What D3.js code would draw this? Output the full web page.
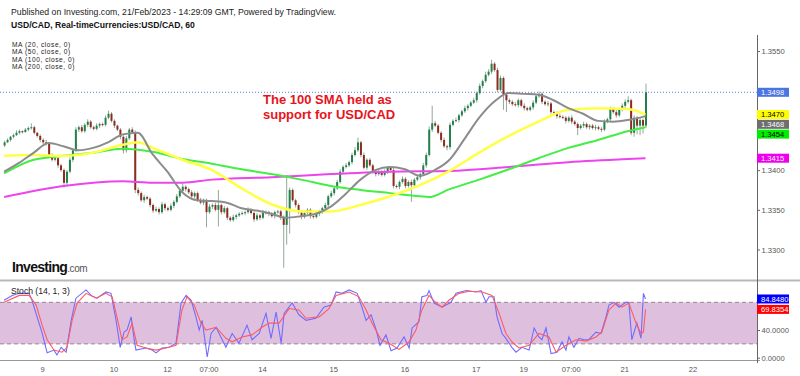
<!DOCTYPE html>
<html>
<head>
<meta charset="utf-8">
<script src="https://cdn.jsdelivr.net/npm/d3@7"></script>
<style>
	body { margin: 0; background: #fff; }
	svg { display: block; }
	text { font-family: Arial, "Liberation Sans", sans-serif; }
</style>
</head>
<body>
<svg width="800" height="376"></svg>
<script>
// USD/CAD hourly, 9 Feb - 21 Feb 2023 (bar index 0 = first visible hour)
const PIP = 0.0001;
const firstOpen = 1.3431;
const closes = [
	1.3435, 1.3438, 1.3442, 1.3444, 1.3447, 1.3449, 1.3448, 1.3451, 1.3453, 1.3454,
	1.3447, 1.3443, 1.3438, 1.3435, 1.3433, 1.3419, 1.3413, 1.3415, 1.3406, 1.3400,
	1.3384, 1.3398, 1.3413, 1.3425, 1.3451, 1.3454, 1.3449, 1.3457, 1.3461, 1.3454,
	1.3452, 1.3456, 1.3458, 1.3457, 1.3466, 1.3471, 1.3462, 1.3456, 1.3451, 1.3442,
	1.3425, 1.3440, 1.3451, 1.3448, 1.3375, 1.3371, 1.3362, 1.3366, 1.3364, 1.3356,
	1.3349, 1.3351, 1.3347, 1.3357, 1.3352, 1.3350, 1.3355, 1.3360, 1.3367, 1.3374,
	1.3379, 1.3376, 1.3372, 1.3367, 1.3371, 1.3362, 1.3359, 1.3362, 1.3347, 1.3354,
	1.3356, 1.3350, 1.3356, 1.3347, 1.3352, 1.3340, 1.3337, 1.3341, 1.3343, 1.3345,
	1.3346, 1.3347, 1.3350, 1.3346, 1.3338, 1.3343, 1.3340, 1.3346, 1.3347, 1.3345,
	1.3342, 1.3347, 1.3348, 1.3340, 1.3331, 1.3350, 1.3375, 1.3362, 1.3356, 1.3347,
	1.3341, 1.3346, 1.3350, 1.3342, 1.3341, 1.3345, 1.3347, 1.3352, 1.3356, 1.3367,
	1.3371, 1.3377, 1.3385, 1.3398, 1.3404, 1.3406, 1.3410, 1.3419, 1.3425, 1.3435,
	1.3419, 1.3403, 1.3413, 1.3406, 1.3398, 1.3395, 1.3398, 1.3394, 1.3398, 1.3403,
	1.3400, 1.3380, 1.3379, 1.3385, 1.3389, 1.3380, 1.3385, 1.3381, 1.3388, 1.3391,
	1.3395, 1.3406, 1.3419, 1.3451, 1.3459, 1.3456, 1.3447, 1.3438, 1.3430, 1.3429,
	1.3457, 1.3462, 1.3463, 1.3469, 1.3474, 1.3478, 1.3481, 1.3485, 1.3488, 1.3497,
	1.3506, 1.3512, 1.3520, 1.3524, 1.3534, 1.3526, 1.3501, 1.3516, 1.3495, 1.3488,
	1.3486, 1.3483, 1.3482, 1.3488, 1.3481, 1.3478, 1.3476, 1.3479, 1.3485, 1.3493,
	1.3496, 1.3486, 1.3483, 1.3484, 1.3473, 1.3472, 1.3468, 1.3467, 1.3466, 1.3462,
	1.3466, 1.3461, 1.3458, 1.3453, 1.3456, 1.3458, 1.3454, 1.3456, 1.3453, 1.3454,
	1.3452, 1.3451, 1.3461, 1.3464, 1.3477, 1.3473, 1.3469, 1.3476, 1.3481, 1.3486,
	1.3488, 1.3447, 1.3466, 1.3456, 1.3463, 1.3456, 1.3498
];
// wick lengths beyond the body, in pips
const wickUp = [
	2, 2, 1, 2, 3, 2, 1, 2, 2, 5,   2, 1, 2, 2, 3, 2, 2, 3, 1, 2,
	2, 2, 3, 2, 3, 2, 3, 2, 3, 2,   2, 3, 2, 2, 3, 4, 2, 2, 1, 2,
	2, 3, 2, 3, 2, 3, 2, 3, 2, 2,   2, 3, 2, 3, 2, 2, 3, 2, 3, 2,
	4, 2, 2, 3, 2, 2, 3, 2, 2, 3,   2, 3, 19, 2, 3, 2, 2, 3, 2, 2,
	2, 2, 3, 2, 2, 3, 2, 4, 2, 2,   2, 2, 2, 2, 3, 44, 3, 2, 2, 2,
	2, 3, 2, 2, 3, 2, 3, 2, 3, 2,   3, 2, 3, 3, 2, 3, 2, 3, 4, 6,
	2, 3, 2, 2, 2, 3, 2, 2, 3, 2,   2, 3, 2, 2, 3, 2, 2, 3, 2, 2,
	2, 3, 3, 4, 22, 3, 2, 2, 3, 2,  3, 2, 3, 2, 2, 3, 2, 2, 3, 2,
	3, 2, 4, 3, 5, 2, 3, 3, 2, 3,   2, 2, 3, 2, 2, 3, 2, 2, 3, 2,
	3, 2, 2, 3, 2, 2, 2, 3, 2, 2,   2, 3, 2, 2, 2, 3, 2, 2, 2, 3,
	2, 2, 3, 2, 3, 2, 3, 2, 3, 3,   5, 2, 3, 2, 3, 2, 11
];
const wickDown = [
	2, 1, 2, 2, 1, 2, 2, 1, 2, 2,   2, 2, 3, 2, 2, 3, 2, 2, 3, 2,
	6, 3, 2, 3, 2, 3, 2, 2, 3, 2,   2, 2, 3, 2, 2, 2, 2, 3, 2, 3,
	4, 3, 2, 2, 4, 3, 2, 3, 2, 3,   3, 2, 3, 2, 3, 2, 2, 3, 2, 2,
	2, 3, 2, 2, 3, 2, 2, 3, 19, 2,  3, 2, 21, 3, 2, 3, 2, 2, 3, 2,
	2, 3, 2, 2, 3, 2, 3, 2, 2, 3,   2, 3, 2, 3, 54, 25, 30, 2, 3, 2,
	3, 2, 2, 3, 2, 2, 3, 2, 2, 3,   2, 3, 2, 2, 3, 2, 2, 3, 2, 2,
	3, 2, 3, 2, 2, 3, 2, 2, 2, 3,   2, 3, 2, 3, 2, 3, 2, 21, 2, 2,
	3, 2, 3, 2, 3, 2, 2, 3, 2, 4,   3, 2, 2, 3, 2, 2, 3, 2, 2, 3,
	2, 3, 2, 2, 3, 2, 3, 2, 19, 15, 3, 2, 2, 3, 2, 3, 2, 2, 3, 2,
	2, 3, 2, 3, 2, 2, 3, 2, 2, 3,   2, 3, 2, 9, 2, 3, 2, 3, 2, 3,
	2, 3, 2, 2, 3, 2, 3, 2, 2, 3,   2, 3, 5, 11, 12, 10, 3
];

// moving averages, read at bar indices
const ma20Bars = [0, 5, 10, 15, 20, 25, 30, 35, 40, 45, 50, 55, 60, 65, 70, 75, 80, 85, 90, 95, 100, 105,
	110, 115, 120, 125, 130, 135, 140, 145, 150, 155, 160, 165, 170, 175, 180, 185, 190, 195, 200, 205, 210, 216];
const ma20 = [
	1.3398, 1.3409, 1.3422, 1.3434, 1.3430, 1.3425, 1.3428, 1.3435, 1.3445, 1.3447,
	1.3420, 1.3398, 1.3372, 1.3362, 1.3361, 1.3359, 1.3352, 1.3349, 1.3345, 1.3340,
	1.3342, 1.3345, 1.3354, 1.3370, 1.3388, 1.3400, 1.3404, 1.3401, 1.3393, 1.3400,
	1.3413, 1.3439, 1.3466, 1.3486, 1.3497, 1.3496, 1.3495, 1.3488, 1.3478, 1.3471,
	1.3462, 1.3461, 1.3463, 1.3468
];
const ma50Bars = [0, 10, 20, 30, 40, 45, 50, 60, 70, 80, 90, 100, 110, 120, 130, 140, 150, 160, 170, 180, 190, 200, 210, 216];
const ma50 = [1.3418, 1.3419, 1.3418, 1.3422, 1.3432, 1.3435, 1.3428, 1.3413, 1.3400, 1.3377, 1.3357, 1.3348,
	1.3348, 1.3356, 1.3367, 1.3381, 1.3399, 1.3422, 1.3443, 1.3461, 1.3476, 1.3478, 1.3477, 1.3470];
const ma100Bars = [0, 10, 20, 30, 40, 50, 60, 70, 80, 90, 100, 110, 120, 130, 140, 143, 150, 160, 170, 180, 190, 200, 210, 216];
const ma100 = [1.3396, 1.3413, 1.3418, 1.3422, 1.3427, 1.3423, 1.3414, 1.3408, 1.3401, 1.3395, 1.3388, 1.3380,
	1.3375, 1.3371, 1.3367, 1.3366, 1.3376, 1.3388, 1.3401, 1.3415, 1.3428, 1.3438, 1.3449, 1.3454];
const ma200Bars = [0, 20, 40, 50, 60, 70, 90, 110, 130, 150, 170, 190, 210, 216];
const ma200 = [1.3366, 1.3380, 1.3386, 1.3384, 1.3384, 1.3388, 1.3391, 1.3395, 1.3398, 1.3399, 1.3404, 1.3410, 1.3414, 1.3415];

// Stoch (14, 1, 3)
const kBars = [0, 2.7, 5.1, 8.4, 9.4, 11.1, 12.8, 14.5, 16.8, 17.8,
	19.2, 20.9, 22.6, 24.2, 27.6, 29.3, 31.3, 34.3, 36, 37.7,
	39.1, 40.4, 41.4, 42.8, 43.8, 44.4, 47.8, 49.8, 51.2, 53.2,
	55.6, 57.9, 59.6, 61.3, 63, 64.6, 65.7, 66.7, 68.4, 69.7,
	71.4, 72.4, 74.7, 76.8, 79.1, 81.8, 83.5, 85.9, 88.2, 89.9,
	91.6, 93.3, 94.3, 97, 99.3, 101.7, 105, 107.7, 110.1, 111.8,
	113.8, 116.2, 118.9, 120.5, 121.9, 123.6, 125.3, 126.6, 128.6, 130.3,
	132.3, 134.7, 136.4, 137.4, 139.7, 140.7, 142.4, 143.1, 144.8, 147.5,
	150.5, 152.2, 155.6, 158.9, 160.6, 162.3, 163.3, 165, 166, 167.7,
	169, 171, 172.4, 174.4, 176.8, 178.5, 180.1, 181.1, 182.5, 184.2,
	186.2, 187.9, 189.2, 190.2, 191.9, 193.6, 195.3, 196.9, 199.3, 201,
	202.7, 203.7, 205.4, 207.1, 209.4, 210.4, 211.4, 213.1, 214.5, 215.3, 216];
const kValues = [83, 90, 93, 93, 83, 59, 36, 7, 11, 4,
	15, 8, 54, 86, 98, 90, 86, 95, 93, 54,
	15, 37, 40, 59, 26, 11, 14, 11, 7, 14,
	15, 21, 79, 90, 83, 59, 40, 54, 1, 35,
	44, 35, 15, 35, 21, 47, 26, 35, 64, 28,
	66, 21, 64, 79, 62, 54, 57, 73, 76, 95,
	93, 98, 93, 73, 54, 62, 40, 18, 33, 10,
	14, 30, 14, 43, 52, 88, 90, 97, 79, 73,
	80, 93, 97, 95, 97, 80, 88, 88, 59, 35,
	28, 15, 8, 15, 11, 43, 30, 26, 43, 6,
	8, 23, 11, 30, 15, 28, 26, 26, 37, 35,
	59, 76, 80, 73, 80, 80, 26, 50, 28, 93, 84.848];
const dBars = [0, 5.1, 8.4, 10.8, 12.8, 14.5, 16.8, 19.5, 21.2, 22.9,
	24.6, 27.6, 31, 34.3, 36.4, 38, 39.7, 41.4, 43.1, 44.8,
	47.8, 51.2, 54.5, 57.9, 59.9, 61.6, 64, 66.3, 68, 71.4,
	74.7, 76.8, 80.1, 83.5, 86.9, 89.2, 92.6, 96, 99.3, 101.7,
	106.1, 109.4, 111.8, 116.2, 119.5, 121.9, 123.9, 126.9, 129.6, 133,
	136.4, 138.7, 140.7, 143.1, 145.5, 147.5, 149.8, 153.2, 156.6, 161,
	164.3, 166.7, 169, 171, 173.4, 176.8, 180.1, 183.5, 185.9, 189.2,
	192.6, 196, 199.3, 201.3, 203.7, 206.1, 208.1, 210.4, 212.8, 214.5, 215.3, 216];
const dValues = [80, 90, 90, 76, 47, 26, 11, 8, 15, 54,
	79, 93, 86, 93, 88, 59, 26, 30, 50, 18,
	14, 11, 14, 18, 69, 88, 76, 50, 40, 44,
	28, 23, 30, 33, 44, 50, 50, 71, 69, 57,
	59, 71, 90, 95, 88, 69, 50, 26, 21, 12,
	23, 40, 69, 90, 79, 73, 83, 93, 96, 95,
	90, 64, 35, 23, 14, 18, 35, 30, 8, 18,
	26, 24, 30, 37, 69, 79, 73, 79, 50, 35, 37, 69.8354];

// time axis labels at bar indices
const xTickBars = [13, 37, 55, 69, 87, 111, 135, 159, 175, 191, 209, 232];
const xTickLabels = ['9', '10', '12', '07:00', '14', '15', '16', '17', '19', '07:00', '21', '22'];
const priceTicks = [1.3300, 1.3350, 1.3400, 1.3450, 1.3500, 1.3550];
const stochTicks = [0, 40, 80];
const maLegend = ['MA (20, close, 0)', 'MA (50, close, 0)', 'MA (100, close, 0)', 'MA (200, close, 0)'];

const svg = d3.select('svg');
const R = 757; // right edge of the plot panes

const x = d3.scaleLinear().domain([0, 253]).range([4.1, 4.1 + 253 * 2.9694]);
const y = d3.scaleLinear().domain([1.3300, 1.3550]).range([249.5, 51]);
const ys = d3.scaleLinear().domain([0, 100]).range([357.7, 288.5]);

const defs = svg.append('defs');
defs.append('clipPath').attr('id', 'clip-main').append('rect').attr('x', 0).attr('y', 35).attr('width', R).attr('height', 245);
defs.append('clipPath').attr('id', 'clip-stoch').append('rect').attr('x', 0).attr('y', 282).attr('width', R).attr('height', 78);

// header texts
svg.append('text').attr('x', 11).attr('y', 15).attr('font-size', 8.7).attr('fill', '#222')
	.text('Published on Investing.com, 21/Feb/2023 - 14:29:09 GMT, Powered by TradingView.');
svg.append('text').attr('x', 11).attr('y', 28).attr('font-size', 8.6).attr('font-weight', 'bold').attr('fill', '#111')
	.text('USD/CAD, Real-timeCurrencies:USD/CAD, 60');
svg.append('g').selectAll('text').data(maLegend).join('text')
	.attr('x', 12).attr('y', (d, i) => 46.8 + i * 7.4)
	.attr('font-size', 6.6).attr('letter-spacing', 0.55).attr('fill', '#222').text(d => d);

// main pane
const main = svg.append('g').attr('clip-path', 'url(#clip-main)');

main.append('line').attr('x1', 0).attr('x2', R).attr('y1', y(1.3498)).attr('y2', y(1.3498))
	.attr('stroke', '#5b7fe6').attr('stroke-dasharray', '1,2');

const candles = closes.map((c, i) => {
	const o = i ? closes[i - 1] : firstOpen;
	return { i, o, c, h: Math.max(o, c) + wickUp[i] * PIP, l: Math.min(o, c) - wickDown[i] * PIP };
});
main.append('g').selectAll('line').data(candles).join('line')
	.attr('x1', d => x(d.i) + 0.5).attr('x2', d => x(d.i) + 0.5)
	.attr('y1', d => y(d.h)).attr('y2', d => y(d.l))
	.attr('stroke', '#93a89b').attr('stroke-width', 1);
main.append('g').selectAll('rect').data(candles).join('rect')
	.attr('x', d => x(d.i) - 0.5).attr('width', 2)
	.attr('y', d => y(Math.max(d.o, d.c)))
	.attr('height', d => Math.max(1, Math.abs(y(d.o) - y(d.c))))
	.attr('fill', d => d.c >= d.o ? '#22804a' : '#8e2a1e');

const maLine = d3.line().x(d => x(d[0])).y(d => y(d[1])).curve(d3.curveMonotoneX);
[
	[ma200Bars, ma200, '#ee44ee', 2],
	[ma100Bars, ma100, '#44ee44', 2],
	[ma50Bars, ma50, '#ffff44', 2.5],
	[ma20Bars, ma20, '#8c8c8c', 2]
].forEach(([bars, vals, color, w]) => {
	main.append('path').datum(d3.zip(bars, vals)).attr('d', maLine)
		.attr('fill', 'none').attr('stroke', color).attr('stroke-width', w);
});

svg.append('g').selectAll('text').data(['The 100 SMA held as', 'support for USD/CAD']).join('text')
	.attr('x', 263).attr('y', (d, i) => 104 + i * 14.5)
	.attr('font-size', 13).attr('font-weight', 'bold').attr('fill', '#e8141c').text(d => d);

// Investing.com mark
const logo = svg.append('text').attr('x', 12).attr('y', 271.5);
logo.append('tspan').attr('font-size', 14).attr('font-weight', 'bold').attr('letter-spacing', -0.7).attr('fill', '#111').text('Investing');
logo.append('tspan').attr('font-size', 10).attr('letter-spacing', -0.4).attr('fill', '#555').text('.com');

// stoch pane
svg.append('line').attr('x1', 0).attr('x2', 800).attr('y1', 280.5).attr('y2', 280.5).attr('stroke', '#b8b8b8').attr('stroke-width', 2);
const stoch = svg.append('g').attr('clip-path', 'url(#clip-stoch)');
stoch.append('rect').attr('x', 0).attr('width', R).attr('y', ys(80)).attr('height', ys(20) - ys(80)).attr('fill', '#dec0de');
stoch.selectAll('line.lvl').data([80, 20]).join('line').attr('class', 'lvl')
	.attr('x1', 0).attr('x2', R).attr('y1', d => ys(d)).attr('y2', d => ys(d))
	.attr('stroke', '#958595').attr('stroke-dasharray', '4,3');
const stLine = d3.line().x(d => x(d[0])).y(d => ys(d[1]));
stoch.append('path').datum(d3.zip(kBars, kValues)).attr('d', stLine)
	.attr('fill', 'none').attr('stroke', '#6f6cff').attr('stroke-width', 1.1);
stoch.append('path').datum(d3.zip(dBars, dValues)).attr('d', stLine)
	.attr('fill', 'none').attr('stroke', '#ff5a64').attr('stroke-width', 1.1);
svg.append('text').attr('x', 11).attr('y', 294).attr('font-size', 8.6).attr('fill', '#222').text('Stoch (14, 1, 3)');

// axes
svg.append('line').attr('x1', 0).attr('x2', R + 3).attr('y1', 360.5).attr('y2', 360.5).attr('stroke', '#999');
svg.append('line').attr('x1', R + 0.5).attr('x2', R + 0.5).attr('y1', 35).attr('y2', 363).attr('stroke', '#666');

// last-value labels on the price scale, stacked so they do not overlap
const lastLabels = [
	{ v: closes[closes.length - 1], bg: '#4a74e0', fg: '#fff' },
	{ v: ma50[ma50.length - 1], bg: '#ffff00', fg: '#000' },
	{ v: ma20[ma20.length - 1], bg: '#6e6e6e', fg: '#fff' },
	{ v: ma100[ma100.length - 1], bg: '#00ee00', fg: '#000' },
	{ v: ma200[ma200.length - 1], bg: '#ee00ee', fg: '#fff' }
].map(d => Object.assign(d, { cy: y(d.v), txt: d.v.toFixed(4) }));
lastLabels.sort((a, b) => a.cy - b.cy).forEach((d, i, arr) => {
	if(i && d.cy < arr[i - 1].cy + 9.8) d.cy = arr[i - 1].cy + 9.8;
});
const stochLabels = [
	{ cy: ys(kValues[kValues.length - 1]), bg: '#0000ff', fg: '#fff', txt: kValues[kValues.length - 1].toFixed(4) },
	{ cy: ys(dValues[dValues.length - 1]), bg: '#ff0000', fg: '#fff', txt: dValues[dValues.length - 1].toFixed(4) }
];
const boxes = lastLabels.concat(stochLabels);

// scale ticks; a tick label hidden under a value box is left out
const tickG = svg.append('g').attr('font-size', 7.6).attr('fill', '#555');
const drawTick = (py, txt) => {
	tickG.append('line').attr('x1', R).attr('x2', R + 3).attr('y1', py + 0.5).attr('y2', py + 0.5).attr('stroke', '#666');
	if(!boxes.some(b => Math.abs(b.cy - py) < 8)) tickG.append('text').attr('x', R + 4.5).attr('y', py + 3).text(txt);
};
priceTicks.forEach(v => drawTick(y(v), v.toFixed(4)));
stochTicks.forEach(v => drawTick(ys(v), v.toFixed(4)));
xTickBars.forEach((b, i) => {
	tickG.append('text').attr('x', x(b)).attr('y', 371.5).attr('text-anchor', 'middle').text(xTickLabels[i]);
});

boxes.forEach(d => {
	const g = svg.append('g');
	g.append('rect').attr('x', R).attr('y', d.cy - 4.5).attr('width', 32).attr('height', 9).attr('fill', d.bg);
	g.append('text').attr('x', R + 4).attr('y', d.cy + 2.8).attr('font-size', 7.6).attr('fill', d.fg).text(d.txt);
});
</script>
</body>
</html>
